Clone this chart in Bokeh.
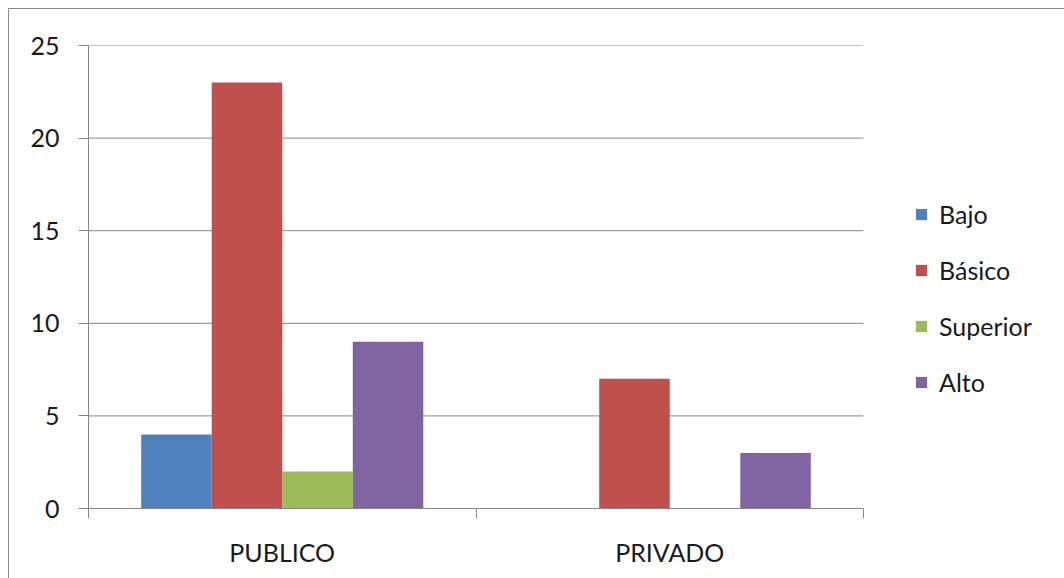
from bokeh.plotting import figure
from bokeh.models import FixedTicker, Legend, LegendItem, ColumnDataSource
from bokeh.embed import file_html
from bokeh.resources import INLINE

categories = ["PUBLICO", "PRIVADO"]
series = ["Bajo", "Básico", "Superior", "Alto"]
bajo = [4, 0]
basico = [23, 7]
superior = [2, 0]
alto = [9, 3]
colors = ["#4F81BD", "#C0504D", "#9BBB59", "#8064A2"]
values = [bajo, basico, superior, alto]
y_ticks = [0, 5, 10, 15, 20, 25]

FONT = "Lato"
FS = "25px"
GRID = "#868686"
TXT = "#1a1a1a"
bar_w = 0.182
n = len(categories)
# plot area spans 775px for the categories; extra room on the right for the legend
x_end = n * 977 / 775

p = figure(frame_width=977, frame_height=463, width=1056, height=570,
           x_range=(0, x_end), y_range=(0, 25),
           output_backend="svg", toolbar_location=None,
           min_border_left=79, min_border_top=36, min_border_bottom=71,
           min_border_right=0)
p.margin = (8, 0, 0, 8)
p.styles = {"border-left": "1px solid #8a8a8a", "border-top": "1px solid #8a8a8a"}
p.outline_line_color = None
p.background_fill_color = "white"
p.border_fill_color = "white"

# horizontal gridlines limited to the category area
p.xgrid.grid_line_color = None
p.ygrid.grid_line_color = None
p.segment(x0=[0] * len(y_ticks), x1=[n] * len(y_ticks), y0=y_ticks, y1=y_ticks,
          line_color=GRID, line_width=1)

renderers = []
for j, (name, vals, c) in enumerate(zip(series, values, colors)):
    off = (j - 1.5) * bar_w
    xs = [i + 0.5 + off for i in range(n)]
    src = ColumnDataSource(dict(x=xs, top=vals))
    r = p.vbar(x="x", top="top", bottom=0, width=bar_w, source=src,
               fill_color=c, line_color=None)
    renderers.append((name, r))

# y axis
p.yaxis.ticker = FixedTicker(ticks=y_ticks)
p.yaxis.axis_line_color = GRID
p.yaxis.major_tick_line_color = GRID
p.yaxis.major_tick_out = 10
p.yaxis.major_tick_in = 0
p.yaxis.minor_tick_line_color = None
p.yaxis.major_label_standoff = 19
p.yaxis.major_label_text_font = FONT
p.yaxis.major_label_text_font_size = FS
p.yaxis.major_label_text_color = TXT

# x axis
p.xaxis.bounds = (0, n)
p.xaxis.ticker = FixedTicker(ticks=[i + 0.5 for i in range(n)],
                             minor_ticks=list(range(n + 1)))
p.xaxis.major_label_overrides = {i + 0.5: c for i, c in enumerate(categories)}
p.xaxis.axis_line_color = GRID
p.xaxis.major_tick_line_color = None
p.xaxis.major_tick_out = 0
p.xaxis.major_tick_in = 0
p.xaxis.minor_tick_line_color = GRID
p.xaxis.minor_tick_out = 10
p.xaxis.minor_tick_in = 0
p.xaxis.major_label_standoff = 18
p.xaxis.major_label_text_font = FONT
p.xaxis.major_label_text_font_size = FS
p.xaxis.major_label_text_color = TXT

legend = Legend(items=[LegendItem(label=nm, renderers=[r]) for nm, r in renderers],
                location=(826, 111), orientation="vertical",
                glyph_width=14, glyph_height=14, label_standoff=11,
                label_height=30, spacing=26, padding=0, margin=0,
                border_line_color=None, background_fill_alpha=0,
                label_text_font=FONT, label_text_font_size=FS,
                label_text_color=TXT)
p.add_layout(legend, "center")

open("out.html", "w").write(file_html(p, INLINE))
